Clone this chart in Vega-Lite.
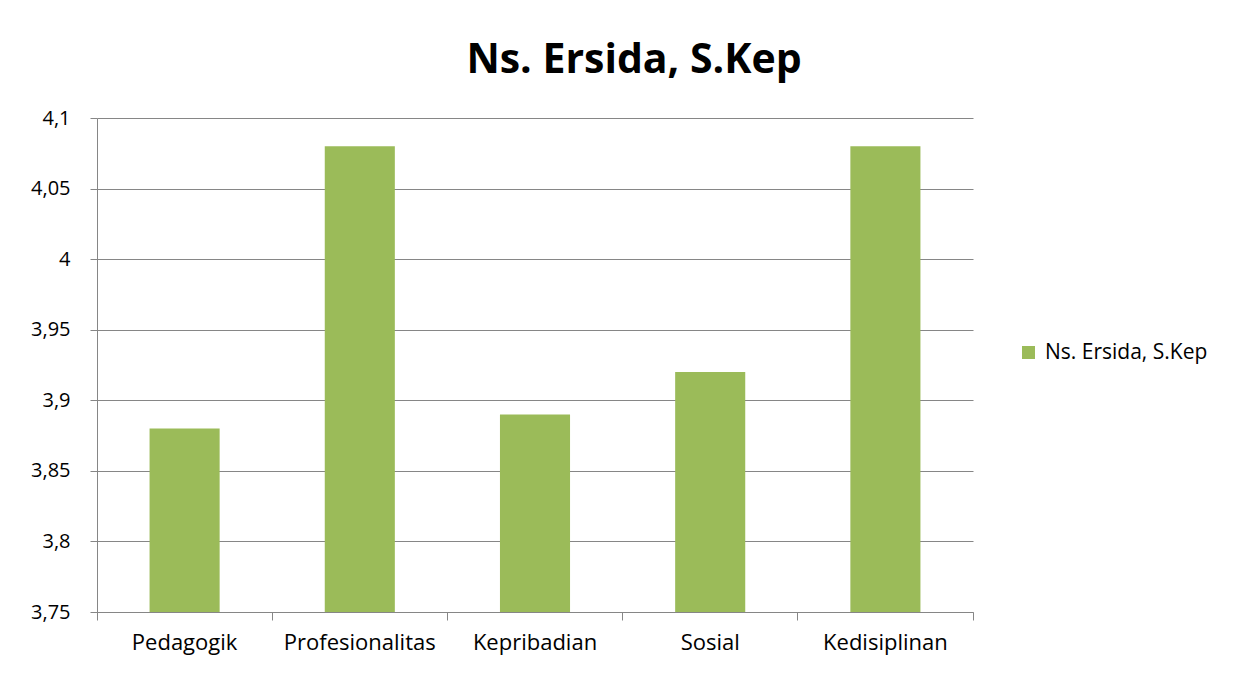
{
  "$schema": "https://vega.github.io/schema/vega-lite/v6.json",
  "width": 876,
  "height": 494,
  "autosize": {"type": "none"},
  "padding": {"left": 97, "top": 118, "right": 280, "bottom": 63},
  "background": "white",
  "config": {
    "locale": {"number": {"decimal": ",", "thousands": ".", "grouping": [3], "currency": ["", ""]}},
    "view": {"stroke": null},
    "font": "Open Sans"
  },
  "title": {
    "text": "Ns. Ersida, S.Kep",
    "fontSize": 41,
    "fontWeight": "bold",
    "color": "#000000",
    "anchor": "middle",
    "dx": 99,
    "offset": 26
  },
  "data": {
    "values": [
      {"kategori": "Pedagogik", "nilai": 3.88, "seri": "Ns. Ersida, S.Kep"},
      {"kategori": "Profesionalitas", "nilai": 4.08, "seri": "Ns. Ersida, S.Kep"},
      {"kategori": "Kepribadian", "nilai": 3.89, "seri": "Ns. Ersida, S.Kep"},
      {"kategori": "Sosial", "nilai": 3.92, "seri": "Ns. Ersida, S.Kep"},
      {"kategori": "Kedisiplinan", "nilai": 4.08, "seri": "Ns. Ersida, S.Kep"}
    ]
  },
  "mark": {"type": "bar", "width": {"band": 0.4}},
  "encoding": {
    "x": {
      "field": "kategori",
      "type": "nominal",
      "sort": null,
      "scale": {"paddingInner": 0, "paddingOuter": 0},
      "axis": {
        "title": null,
        "labelAngle": 0,
        "labelFontSize": 22,
        "labelColor": "#000000",
        "labelPadding": 12,
        "domainColor": "#868686",
        "tickColor": "#868686",
        "tickSize": 8,
        "bandPosition": 1,
        "tickExtra": true,
        "grid": false
      }
    },
    "y": {
      "field": "nilai",
      "type": "quantitative",
      "scale": {"domain": [3.75, 4.1], "nice": false, "zero": false},
      "axis": {
        "title": null,
        "values": [3.75, 3.8, 3.85, 3.9, 3.95, 4, 4.05, 4.1],
        "format": "~g",
        "labelFontSize": 20,
        "labelColor": "#000000",
        "labelPadding": 20,
        "tickSize": 7,
        "tickColor": "#868686",
        "domainColor": "#868686",
        "grid": true,
        "gridColor": "#868686",
        "gridOpacity": 1
      }
    },
    "y2": {"datum": 3.75},
    "color": {
      "field": "seri",
      "type": "nominal",
      "scale": {"range": ["#9BBB59"]},
      "legend": {
        "title": null,
        "orient": "none",
        "legendX": 921,
        "legendY": 224,
        "symbolType": "square",
        "symbolSize": 169,
        "symbolStrokeWidth": 0,
        "labelFontSize": 21,
        "labelLimit": 320,
        "labelColor": "#000000",
        "labelOffset": 6
      }
    }
  }
}
